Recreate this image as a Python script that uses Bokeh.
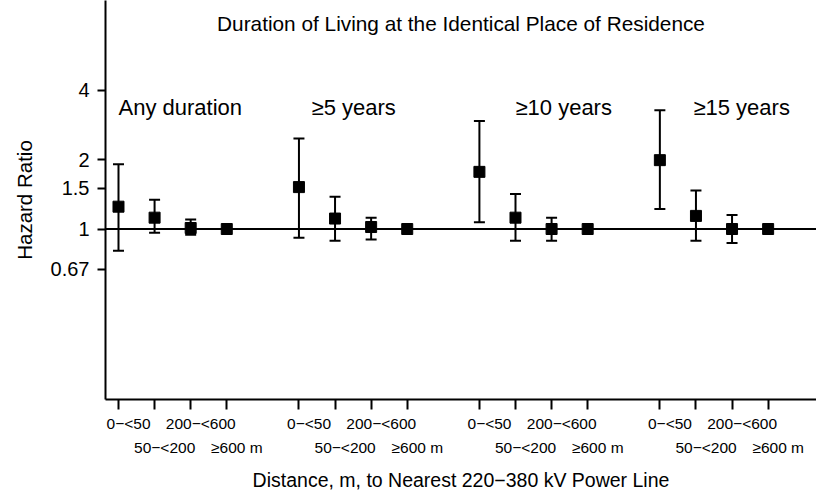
from bokeh.plotting import figure
from bokeh.models import (ColumnDataSource, Range1d, FixedTicker, Span, Whisker,
                          TeeHead, LabelSet, Label, LinearAxis)
from bokeh.core.properties import value
from bokeh.embed import file_html
from bokeh.resources import INLINE

# ---------------- data ----------------
title_text = "Duration of Living at the Identical Place of Residence"
groups = ["Any duration", "\u22655 years", "\u226510 years", "\u226515 years"]
group_label_x = [1.0, 6.35, 12.0, 16.93]
categories = ["0\u2212<50", "50\u2212<200", "200\u2212<600", "\u2265600 m"]

hr_any = [1.25, 1.12, 1.01, 1.0]
lo_any = [0.805, 0.964, 0.945, None]
hi_any = [1.91, 1.34, 1.10, None]

hr_5 = [1.52, 1.11, 1.02, 1.0]
lo_5 = [0.917, 0.89, 0.90, None]
hi_5 = [2.47, 1.38, 1.12, None]

hr_10 = [1.77, 1.12, 1.00, 1.0]
lo_10 = [1.07, 0.89, 0.89, None]
hi_10 = [2.94, 1.42, 1.12, None]

hr_15 = [1.99, 1.14, 1.00, 1.0]
lo_15 = [1.22, 0.89, 0.87, None]
hi_15 = [3.28, 1.47, 1.15, None]

y_ticks = [0.67, 1, 1.5, 2, 4]
y_tick_labels = ["0.67", "1", "1.5", "2", "4"]

x_title = "Distance, m, to Nearest 220\u2212380 kV Power Line"
y_title = "Hazard Ratio"

# ---------------- build ----------------
hr_all = [hr_any, hr_5, hr_10, hr_15]
lo_all = [lo_any, lo_5, lo_10, lo_15]
hi_all = [hi_any, hi_5, hi_10, hi_15]

LABEL_SHIFT = 0.28  # tick labels sit slightly right of their ticks

xs, ys, ci_x, ci_lo, ci_hi = [], [], [], [], []
tick_pos = []
row1, row2 = {}, {}
for g in range(4):
    for k in range(4):
        x = g * 5 + k + 1
        tick_pos.append(x)
        xs.append(x)
        ys.append(hr_all[g][k])
        if lo_all[g][k] is not None:
            ci_x.append(x)
            ci_lo.append(lo_all[g][k])
            ci_hi.append(hi_all[g][k])
        lx = round(x + LABEL_SHIFT, 2)
        (row1 if k % 2 == 0 else row2)[lx] = categories[k]

FONT = "Liberation Sans"
Y0, Y1 = 0.182, 9.81
X0, X1 = 0.64, 20.34

p = figure(width=816, height=493, y_axis_type="log",
           x_range=Range1d(X0, X1), y_range=Range1d(Y0, Y1),
           output_backend="svg", toolbar_location=None,
           min_border_left=105, min_border_right=0, min_border_top=0,
           min_border_bottom=93)
p.outline_line_color = None
p.xgrid.visible = False
p.ygrid.visible = False
p.background_fill_color = "white"
p.border_fill_color = "white"

# y axis
ya = p.yaxis[0]
ya.ticker = FixedTicker(ticks=y_ticks)
ya.major_label_overrides = {t: l for t, l in zip(y_ticks, y_tick_labels)}
ya.minor_tick_line_color = None
ya.major_tick_out = 8
ya.major_tick_in = 0
ya.axis_line_width = 2
ya.major_tick_line_width = 2
ya.axis_line_color = "black"
ya.major_tick_line_color = "black"
ya.major_label_text_font = FONT
ya.major_label_text_font_size = "20px"
ya.major_label_text_color = "black"
ya.major_label_standoff = 8
ya.axis_label = y_title
ya.axis_label_text_font = FONT
ya.axis_label_text_font_size = "20.5px"
ya.axis_label_text_font_style = "normal"
ya.axis_label_text_color = "black"
ya.axis_label_standoff = 12

# x axis: tick marks only
xa = p.xaxis[0]
xa.ticker = FixedTicker(ticks=tick_pos)
xa.major_label_overrides = {t: "" for t in tick_pos}
xa.major_label_text_font_size = "0px"
xa.major_label_standoff = 0
xa.minor_tick_line_color = None
xa.major_tick_out = 10
xa.major_tick_in = 0
xa.axis_line_width = 2
xa.major_tick_line_width = 2
xa.axis_line_color = "black"
xa.major_tick_line_color = "black"

def label_axis(rowmap, standoff):
    ax = LinearAxis(ticker=FixedTicker(ticks=list(rowmap.keys())),
                    major_label_overrides=rowmap,
                    axis_line_color=None, major_tick_line_color=None,
                    minor_tick_line_color=None, major_tick_out=0, major_tick_in=0,
                    major_label_standoff=standoff,
                    major_label_text_font=FONT, major_label_text_font_size="15.5px",
                    major_label_text_color="black")
    return ax

ax_r1 = label_axis(row1, 5)
ax_r2 = label_axis(row2, 4)
ax_r2.axis_label = x_title
ax_r2.axis_label_text_font = FONT
ax_r2.axis_label_text_font_size = "19.5px"
ax_r2.axis_label_text_font_style = "normal"
ax_r2.axis_label_text_color = "black"
ax_r2.axis_label_standoff = 10
p.add_layout(ax_r1, "below")
p.add_layout(ax_r2, "below")

# reference line
p.add_layout(Span(location=1, dimension="width", line_color="black", line_width=2))

# confidence intervals
ci_src = ColumnDataSource(dict(x=ci_x, lo=ci_lo, hi=ci_hi))
p.add_layout(Whisker(source=ci_src, base="x", lower="lo", upper="hi",
                     dimension="height", line_color="black", line_width=2,
                     upper_head=TeeHead(size=11, line_color="black", line_width=2),
                     lower_head=TeeHead(size=11, line_color="black", line_width=2)))

# point estimates
p.scatter(xs, ys, marker="square", size=11, color="black")

# group labels
gsrc = ColumnDataSource(dict(x=group_label_x, y=[3.38] * 4, t=groups))
p.add_layout(LabelSet(x="x", y="y", text="t", source=gsrc,
                      text_align="left", text_baseline="middle",
                      text_font=value(FONT), text_font_size=value("22px"),
                      text_color="black"))

# title
p.add_layout(Label(x=(X0 + X1) / 2, y=Y1 * 2 ** (-23 / 69.5), text=title_text,
                   text_align="center", text_baseline="middle",
                   text_font=FONT, text_font_size="20.8px", text_color="black"))

open("out.html", "w").write(file_html(p, INLINE))
